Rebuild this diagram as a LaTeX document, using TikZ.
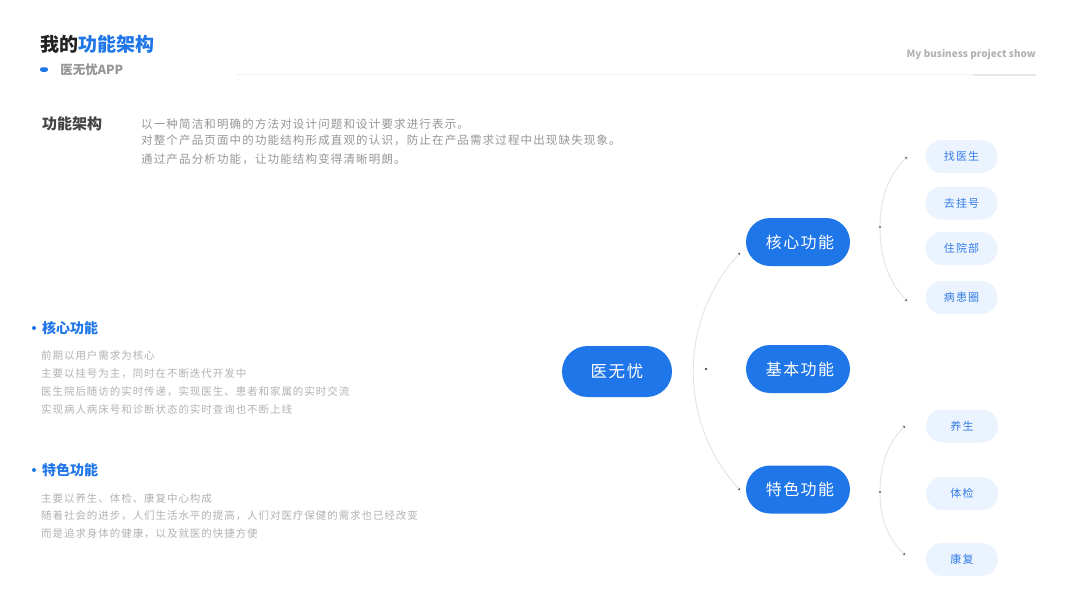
\documentclass[tikz,border=0pt]{standalone}
\usepackage{fontspec}
\setmainfont{Noto Sans CJK SC}
\usetikzlibrary{calc,positioning}

\definecolor{mainblue}{RGB}{31,118,232}
\definecolor{leafbg}{RGB}{235,243,254}
\definecolor{leaftext}{RGB}{52,125,230}
\definecolor{titledark}{RGB}{34,34,34}
\definecolor{headgray}{RGB}{68,68,68}
\definecolor{paragray}{RGB}{150,150,150}
\definecolor{descgray}{RGB}{178,178,178}
\definecolor{linegray}{RGB}{228,228,228}
\definecolor{dotgray}{RGB}{85,85,85}

\begin{document}
\begin{tikzpicture}[x=1pt,y=-1pt,
  pill/.style={fill=mainblue,text=white,rounded corners=24pt,minimum width=104pt,
    minimum height=48pt,inner sep=0pt,font=\fontsize{16}{16}\selectfont\addfontfeature{LetterSpace=9}},
  leaf/.style={fill=leafbg,text=leaftext,rounded corners=16.5pt,minimum width=72pt,
    minimum height=33pt,inner sep=0pt,font=\fontsize{11}{11}\selectfont\addfontfeature{LetterSpace=10}},
  link/.style={draw=linegray,line width=0.9pt},
  dot/.style={circle,fill=dotgray,inner sep=0pt,minimum size=2.6pt},
  para/.style={anchor=west,inner sep=0pt,text=paragray,font=\fontsize{11.5}{11.5}\selectfont\addfontfeature{LetterSpace=10}},
  desc/.style={anchor=west,inner sep=0pt,text=descgray,font=\fontsize{10.5}{10.5}\selectfont\addfontfeature{LetterSpace=9}},
  subhead/.style={anchor=west,inner sep=0pt,text=mainblue,font=\fontsize{14}{14}\selectfont\bfseries}]
\useasboundingbox[fill=white] (0,0) rectangle (1067,600);

% header
\node[anchor=west,inner sep=0pt,text=titledark,font=\fontsize{19}{19}\selectfont\bfseries]
  (title) at (40,44) {我的\textcolor{mainblue}{功能架构}};
\node[fill=mainblue,rounded corners=2.2pt,minimum width=8pt,minimum height=4.5pt,inner sep=0pt]
  (bar) at (44,69.5) {};
\node[right=12pt of bar,inner sep=0pt,text=paragray,font=\fontsize{12.5}{12.5}\selectfont\bfseries]
  (app) {医无忧APP};
\node[anchor=east,inner sep=0pt,text=descgray,font=\fontsize{10}{10}\selectfont\bfseries]
  (show) at (1036,54) {My business project show};
\draw[draw=black!5,line width=0.8pt] (237,74) -- (973,74);
\draw[draw=black!9,line width=2pt] (973,74.5) -- (1036,74.5);

% intro
\node[anchor=west,inner sep=0pt,text=headgray,font=\fontsize{15}{15}\selectfont\bfseries]
  (intro) at (42,124) {功能架构};
\node[para] (p1) at (141,124) {以一种简洁和明确的方法对设计问题和设计要求进行表示。};
\node[para] (p2) at (141,140) {对整个产品页面中的功能结构形成直观的认识，防止在产品需求过程中出现缺失现象。};
\node[para] (p3) at (141,159) {通过产品分析功能，让功能结构变得清晰明朗。};

% left notes
\fill[mainblue] (34,328) circle (2pt);
\node[subhead] (h1) at (42,328) {核心功能};
\node[desc] at (41,356) {前期以用户需求为核心};
\node[desc] at (41,374) {主要以挂号为主，同时在不断迭代开发中};
\node[desc] at (41,392) {医生院后随访的实时传递，实现医生、患者和家属的实时交流};
\node[desc] at (41,409) {实现病人病床号和诊断状态的实时查询也不断上线};
\fill[mainblue] (34,470) circle (2pt);
\node[subhead] (h2) at (42,470) {特色功能};
\node[desc] at (41,498) {主要以养生、体检、康复中心构成};
\node[desc] at (41,516) {随着社会的进步，人们生活水平的提高，人们对医疗保健的需求也已经改变};
\node[desc] at (41,534) {而是追求身体的健康，以及就医的快捷方便};

% tree
\node[pill,minimum width=110pt,minimum height=51pt,rounded corners=25.5pt,
  font=\fontsize{16.5}{16.5}\selectfont\addfontfeature{LetterSpace=10}] (root) at (617,371.5) {医无忧};
\node[pill] (core) at (798,242) {\hspace*{4pt}核心功能};
\node[pill] (base) at (798,369) {\hspace*{4pt}基本功能};
\node[pill] (spec) at (798,489.5) {\hspace*{4pt}特色功能};

\node[leaf] (l1) at (961.5,156.5) {找医生};
\node[leaf] (l2) at (961.5,203) {去挂号};
\node[leaf] (l3) at (961.5,248.5) {住院部};
\node[leaf] (l4) at (961.5,297.5) {病患圈};
\node[leaf] (l5) at (962,426) {养生};
\node[leaf] (l6) at (962,493.5) {体检};
\node[leaf] (l7) at (962,559.5) {康复};

\node[dot] (r0) at (706,369) {};
\node[dot] (r1) at (739,254) {};
\node[dot] (r3) at (739,489) {};
\draw[link] (r1.center) .. controls ($(r1)+(-61,66)$) and ($(r3)+(-61,-66)$) .. (r3.center);

\node[dot] (a1) at (906,158) {};
\node[dot] (a2) at (880,227) {};
\node[dot] (a3) at (906,300) {};
\draw[link] (a1.center) .. controls ($(a1)+(-16,16)$) and ($(a2)+(0,-32)$) .. (a2.center)
  .. controls ($(a2)+(0,34)$) and ($(a3)+(-16,-17)$) .. (a3.center);

\node[dot] (b1) at (904,427) {};
\node[dot] (b2) at (880,492) {};
\node[dot] (b3) at (904,554) {};
\draw[link] (b1.center) .. controls ($(b1)+(-15,15)$) and ($(b2)+(0,-30)$) .. (b2.center)
  .. controls ($(b2)+(0,29)$) and ($(b3)+(-15,-15)$) .. (b3.center);
\end{tikzpicture}
\end{document}
